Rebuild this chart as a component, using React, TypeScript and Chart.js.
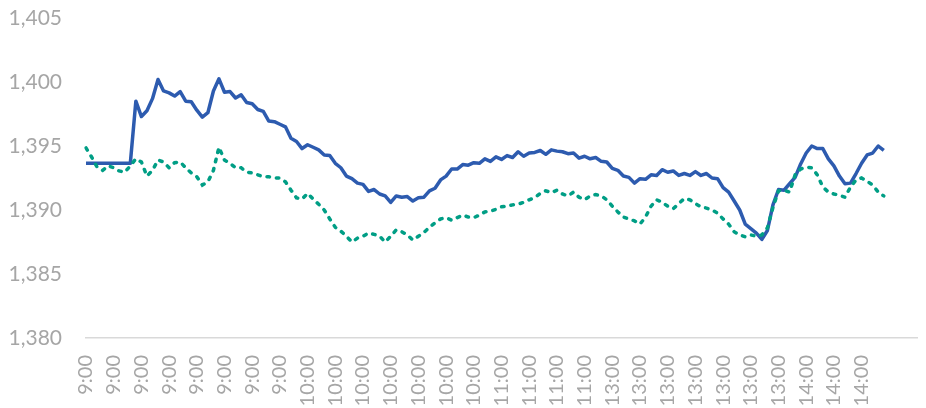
import React, { useEffect, useRef } from 'react';
import { Chart, registerables } from 'chart.js';

Chart.register(...registerables);

// Tick labels shown on the category axis (one every 5 data points)
const tickLabels: string[] = [
  '9:00', '9:00', '9:00', '9:00', '9:00', '9:00', '9:00', '9:00',
  '10:00', '10:00', '10:00', '10:00', '10:00', '10:00', '10:00',
  '11:00', '11:00', '11:00', '11:00',
  '13:00', '13:00', '13:00', '13:00', '13:00', '13:00', '13:00',
  '14:00', '14:00', '14:00',
];
const pointsPerTick = 5;
const categoryCount = 151;

const blueValues: number[] = [
  1393.65, 1393.65, 1393.65, 1393.65, 1393.65, 1393.65, 1393.65, 1393.65, 1393.65,
  1398.5, 1397.3, 1397.75, 1398.7, 1400.2, 1399.3, 1399.15, 1398.9, 1399.25, 1398.5, 1398.45,
  1397.8, 1397.25, 1397.6, 1399.3, 1400.25, 1399.2, 1399.25, 1398.75, 1399.0, 1398.4,
  1398.3, 1397.85, 1397.7, 1396.95, 1396.9, 1396.7, 1396.5, 1395.6, 1395.35, 1394.8,
  1395.1, 1394.9, 1394.7, 1394.3, 1394.25, 1393.65, 1393.3, 1392.65, 1392.45, 1392.1,
  1392.0, 1391.45, 1391.6, 1391.25, 1391.1, 1390.6, 1391.1, 1391.0, 1391.05, 1390.7,
  1390.95, 1391.0, 1391.5, 1391.7, 1392.35, 1392.65, 1393.2, 1393.2, 1393.55, 1393.5,
  1393.7, 1393.65, 1394.0, 1393.8, 1394.15, 1393.95, 1394.25, 1394.1, 1394.55, 1394.2,
  1394.45, 1394.5, 1394.65, 1394.35, 1394.7, 1394.6, 1394.55, 1394.4, 1394.45, 1394.05,
  1394.2, 1394.0, 1394.1, 1393.8, 1393.75, 1393.25, 1393.1, 1392.65, 1392.55, 1392.1,
  1392.45, 1392.4, 1392.75, 1392.7, 1393.15, 1392.95, 1393.05, 1392.7, 1392.85, 1392.7,
  1393.0, 1392.7, 1392.85, 1392.5, 1392.45, 1391.75, 1391.4, 1390.7, 1390.0, 1388.9,
  1388.55, 1388.2, 1387.7, 1388.4, 1390.4, 1391.6, 1391.55, 1392.05, 1392.55, 1393.6,
  1394.45, 1395.0, 1394.8, 1394.8, 1394.0, 1393.45, 1392.65, 1392.05, 1392.1, 1392.85,
  1393.65, 1394.3, 1394.45, 1395.0, 1394.65,
];

const greenValues: number[] = [
  1394.85, 1394.15, 1393.35, 1393.1, 1393.45, 1393.3, 1393.05, 1392.95, 1393.45, 1394.0,
  1393.75, 1392.65, 1393.1, 1393.9, 1393.75, 1393.3, 1393.7, 1393.75, 1393.3, 1392.9,
  1392.6, 1391.95, 1392.2, 1393.1, 1394.9, 1393.9, 1393.65, 1393.3, 1393.3, 1392.95,
  1392.9, 1392.75, 1392.6, 1392.6, 1392.5, 1392.5, 1392.2, 1391.55, 1390.95, 1390.85,
  1391.3, 1390.85, 1390.45, 1390.0, 1389.3, 1388.65, 1388.35, 1387.95, 1387.5, 1387.8,
  1387.95, 1388.2, 1388.1, 1387.95, 1387.5, 1387.95, 1388.45, 1388.3, 1388.05, 1387.65,
  1387.95, 1388.25, 1388.65, 1389.0, 1389.3, 1389.4, 1389.2, 1389.4, 1389.6, 1389.45,
  1389.4, 1389.6, 1389.85, 1389.9, 1390.05, 1390.25, 1390.3, 1390.4, 1390.45, 1390.6,
  1390.8, 1390.95, 1391.3, 1391.5, 1391.35, 1391.55, 1391.25, 1391.1, 1391.4, 1391.0,
  1390.8, 1391.1, 1391.2, 1391.1, 1390.8, 1390.3, 1389.85, 1389.45, 1389.3, 1389.15,
  1388.9, 1389.45, 1390.3, 1390.8, 1390.6, 1390.3, 1390.1, 1390.5, 1390.9, 1390.8,
  1390.5, 1390.25, 1390.15, 1390.0, 1389.75, 1389.3, 1388.9, 1388.3, 1388.05, 1387.9,
  1388.05, 1387.95, 1388.05, 1388.6, 1390.2, 1391.5, 1391.55, 1391.4, 1392.75, 1393.2,
  1393.35, 1393.3, 1392.75, 1391.8, 1391.4, 1391.25, 1391.15, 1391.0, 1391.8, 1392.35,
  1392.5, 1392.25, 1391.95, 1391.4, 1391.1,
];

const yMin = 1380;
const yMax = 1405;
const yStep = 5;

export default function App() {
  const ref = useRef<HTMLCanvasElement>(null);

  useEffect(() => {
    document.body.style.margin = '0';
    const labels = Array.from({ length: categoryCount }, (_, i) =>
      i % pointsPerTick === 0 && tickLabels[i / pointsPerTick] ? tickLabels[i / pointsPerTick] : ''
    );
    const zeroPad = (s: any) => {
      s.paddingLeft = 0;
      s.paddingRight = 0;
      s.paddingTop = 0;
      s.paddingBottom = 0;
    };
    const chart = new Chart(ref.current as HTMLCanvasElement, {
      type: 'line',
      data: {
        labels,
        datasets: [
          {
            data: blueValues,
            borderColor: '#2D5BAF',
            borderWidth: 3.5,
            borderJoinStyle: 'round',
            pointRadius: 0,
            tension: 0,
            fill: false,
            order: 2,
          },
          {
            data: greenValues,
            borderColor: '#009E85',
            borderWidth: 3.5,
            borderDash: [2.5, 7],
            borderCapStyle: 'round',
            pointRadius: 0,
            tension: 0,
            fill: false,
            order: 1,
          },
        ],
      },
      options: {
        animation: false,
        responsive: false,
        maintainAspectRatio: false,
        layout: { padding: { left: 8, right: 9, top: 18, bottom: 0 } },
        plugins: { legend: { display: false }, tooltip: { enabled: false } },
        scales: {
          x: {
            type: 'category',
            offset: false,
            grid: { display: false, drawTicks: false },
            border: { display: true, color: '#D9D9D9', width: 1.5 },
            ticks: {
              autoSkip: false,
              maxRotation: 90,
              minRotation: 90,
              padding: 17,
              color: '#A6A6A6',
              font: { family: 'Lato', size: 20 },
            },
            afterFit: (s: any) => {
              s.height = 70;
              zeroPad(s);
            },
          },
          y: {
            min: yMin,
            max: yMax,
            grid: { display: false, drawTicks: false },
            border: { display: false },
            ticks: {
              stepSize: yStep,
              padding: 24,
              color: '#A6A6A6',
              font: { family: 'Lato', size: 21 },
              callback: (v: any) => Number(v).toLocaleString('en-US'),
            },
            afterFit: (s: any) => {
              s.width = 78;
              zeroPad(s);
            },
          },
        },
      },
    });
    return () => chart.destroy();
  }, []);

  return <canvas ref={ref} width={926} height={408} style={{ display: 'block' }} />;
}
